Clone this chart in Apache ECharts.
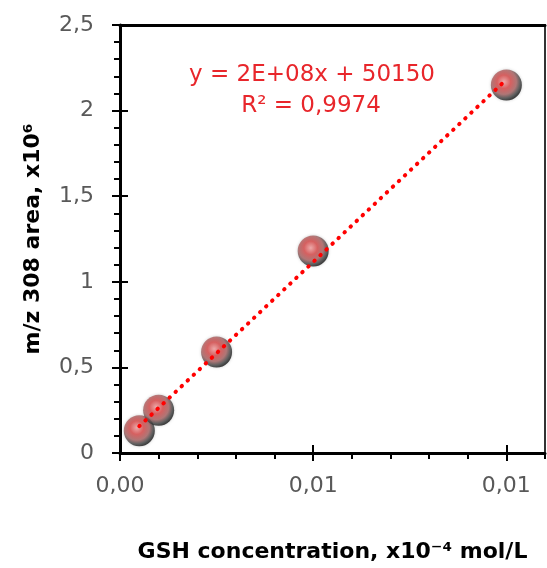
<!DOCTYPE html>
<html>
<head>
<meta charset="utf-8">
<script src="https://cdn.jsdelivr.net/npm/echarts@6/dist/echarts.min.js"></script>
<style>html,body{margin:0;padding:0;background:#fff}#c{width:547px;height:568px}</style>
</head>
<body>
<div id="c"></div>
<script>
// Data (x in ×10⁻⁴ mol/L units as labelled, y in ×10⁶)
var xValues = [0.0005, 0.001, 0.0025, 0.005, 0.01];
var yValues = [0.13, 0.25, 0.59, 1.18, 2.15];
var xTicks = [0, 0.005, 0.01];
var yTicks = [0, 0.5, 1, 1.5, 2, 2.5];
var xMinorStep = 0.001;
var yMinorStep = 0.1;
var eqLine1 = 'y = 2E+08x + 50150';
var eqLine2 = 'R² = 0,9974';
var xTitle = 'GSH concentration, x10⁻⁴ mol/L';
var yTitle = 'm/z 308 area, x10⁶';

// least-squares trendline from the data
var n = xValues.length, sx = 0, sy = 0, sxx = 0, sxy = 0;
for (var i = 0; i < n; i++) { sx += xValues[i]; sy += yValues[i]; sxx += xValues[i]*xValues[i]; sxy += xValues[i]*yValues[i]; }
var slope = (n*sxy - sx*sy) / (n*sxx - sx*sx);
var icpt = (sy - slope*sx) / n;
var xLo = Math.min.apply(null, xValues), xHi = Math.max.apply(null, xValues);
var trend = [[xLo, icpt + slope*xLo], [xHi, icpt + slope*xHi]];
var points = xValues.map(function (x, i) { return [x, yValues[i]]; });

var FONT = 'DejaVu Sans';
var chart = echarts.init(document.getElementById('c'));
var baseX = { type: 'value', min: 0, max: 0.011, gridIndex: 0, splitLine: { show: false } };
var baseY = { type: 'value', min: 0, max: 2.5, splitLine: { show: false } };
chart.setOption({
  animation: false,
  grid: { left: 120, top: 25, right: 2, bottom: 112, show: true, borderColor: '#333', borderWidth: 2, backgroundColor: 'transparent' },
  xAxis: [
    Object.assign({}, baseX, {
      position: 'bottom',
      axisLine: { show: true, lineStyle: { color: '#000', width: 3 } },
      axisTick: { show: true, customValues: xTicks, length: 8, lineStyle: { color: '#000', width: 2 } },
      axisLabel: { customValues: xTicks, color: '#595959', fontFamily: FONT, fontSize: 22, margin: 22,
        formatter: function (v) { return v.toFixed(2).replace('.', ','); } },
      name: xTitle, nameLocation: 'middle', nameGap: 88,
      nameTextStyle: { color: '#000', fontFamily: FONT, fontWeight: 'bold', fontSize: 22 }
    }),
    Object.assign({}, baseX, {
      position: 'bottom',
      axisLine: { show: false },
      axisTick: { show: true, inside: true, customValues: xTicks, length: 8, lineStyle: { color: '#000', width: 2 } },
      axisLabel: { show: false }
    }),
    Object.assign({}, baseX, {
      position: 'bottom', interval: xMinorStep,
      axisLine: { show: false },
      axisTick: { show: true, length: 6, lineStyle: { color: '#000', width: 2 } },
      axisLabel: { show: false }
    }),
    Object.assign({}, baseX, {
      position: 'top',
      axisLine: { show: true, lineStyle: { color: '#000', width: 3 } },
      axisTick: { show: false },
      axisLabel: { show: false }
    })
  ],
  yAxis: [
    Object.assign({}, baseY, {
      position: 'left', interval: 0.5,
      axisLine: { show: true, lineStyle: { color: '#000', width: 3 } },
      axisTick: { show: true, customValues: yTicks, length: 8, lineStyle: { color: '#000', width: 2 } },
      axisLabel: { customValues: yTicks, color: '#595959', fontFamily: FONT, fontSize: 22, margin: 26,
        formatter: function (v) { return String(v).replace('.', ','); } },
      name: yTitle, nameLocation: 'middle', nameGap: 76,
      nameTextStyle: { color: '#000', fontFamily: FONT, fontWeight: 'bold', fontSize: 22 }
    }),
    Object.assign({}, baseY, {
      position: 'left', interval: 0.5,
      axisLine: { show: false },
      axisTick: { show: true, inside: true, length: 8, lineStyle: { color: '#000', width: 2 } },
      axisLabel: { show: false }
    }),
    Object.assign({}, baseY, {
      position: 'left', interval: yMinorStep,
      axisLine: { show: false },
      axisTick: { show: true, inside: false, length: 6, lineStyle: { color: '#000', width: 2 } },
      axisLabel: { show: false }
    })
  ],
  graphic: [
    { type: 'text', x: 312, y: 75, style: { text: eqLine1, fill: '#e8262b', font: '23px "' + FONT + '"', align: 'center', verticalAlign: 'middle' }, z: 10 },
    { type: 'text', x: 311, y: 106, style: { text: eqLine2, fill: '#e8262b', font: '23px "' + FONT + '"', align: 'center', verticalAlign: 'middle' }, z: 10 }
  ],
  series: [
    {
      type: 'scatter', xAxisIndex: 0, yAxisIndex: 0, data: points, symbolSize: 31, z: 3,
      itemStyle: {
        color: { type: 'radial', x: 0.42, y: 0.4, r: 0.62, colorStops: [
          { offset: 0, color: '#f4a0a0' },
          { offset: 0.35, color: '#d84545' },
          { offset: 0.65, color: '#a86060' },
          { offset: 0.85, color: '#444' },
          { offset: 1, color: '#111' }
        ] },
        shadowBlur: 3, shadowColor: 'rgba(0,0,0,0.25)'
      }
    },
    {
      type: 'line', xAxisIndex: 0, yAxisIndex: 0, data: trend, symbol: 'none', z: 4,
      lineStyle: { color: '#ff0000', width: 4, type: [0.5, 7.8], cap: 'round' }
    }
  ]
});
</script>
</body>
</html>
